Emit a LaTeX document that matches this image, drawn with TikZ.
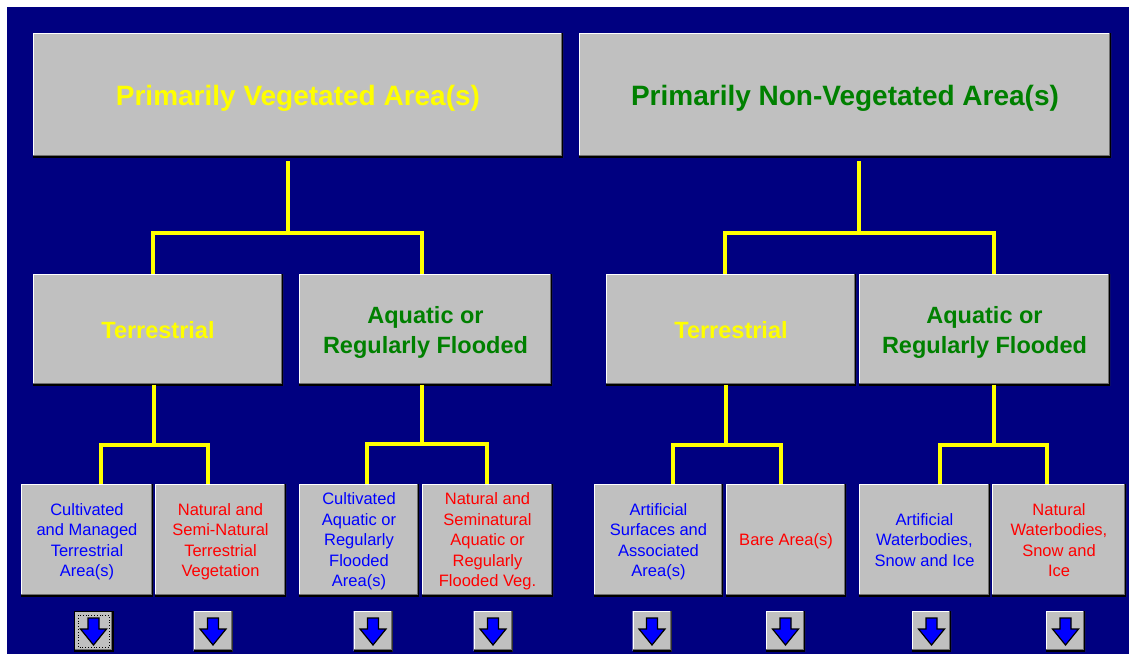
\documentclass[tikz,border=0pt]{standalone}
\usepackage{fontspec}
\setmainfont{Liberation Sans}
\definecolor{navy}{RGB}{0,0,128}
\definecolor{wingray}{RGB}{192,192,192}
\definecolor{windark}{RGB}{110,110,110}
\definecolor{tyellow}{RGB}{255,255,0}
\definecolor{tgreen}{RGB}{0,128,0}
\definecolor{tblue}{RGB}{0,0,255}
\definecolor{tred}{RGB}{255,0,0}
\newcommand\winbevel{%
  \draw[white,line width=2pt] (path picture bounding box.south west) -- (path picture bounding box.north west) -- (path picture bounding box.north east);
  \draw[windark,line width=4pt] (path picture bounding box.south west) -- (path picture bounding box.south east) -- (path picture bounding box.north east);
  \draw[black,line width=2pt] (path picture bounding box.south west) -- (path picture bounding box.south east) -- (path picture bounding box.north east);}
\newcommand\winarrow{%
  \filldraw[fill=tblue,draw=black,line width=1.2pt,line join=miter]
    ([shift={(-5.5,-13)}]path picture bounding box.center) -- ([shift={(5.5,-13)}]path picture bounding box.center)
    -- ([shift={(5.5,-2)}]path picture bounding box.center) -- ([shift={(13,-2)}]path picture bounding box.center)
    -- ([shift={(0,14)}]path picture bounding box.center) -- ([shift={(-13,-2)}]path picture bounding box.center)
    -- ([shift={(-5.5,-2)}]path picture bounding box.center) -- cycle;}
\begin{document}
\begin{tikzpicture}[x=1pt,y=-1pt,
  panel/.style={rectangle,fill=wingray,draw=none,inner sep=0pt,text depth=0pt,path picture={\winbevel}},
  bigbox/.style={panel,minimum height=124pt,font=\bfseries\fontsize{28}{32}\selectfont},
  midbox/.style={panel,minimum height=111pt,align=center,font=\bfseries\fontsize{23.5}{30}\selectfont},
  smallbox/.style={panel,minimum height=112pt,align=center,font=\fontsize{16.5}{20.5}\selectfont},
  btn/.style={rectangle,fill=wingray,inner sep=0pt,minimum width=39pt,minimum height=40pt,path picture={\winbevel\winarrow}},
  focusbtn/.style={btn,draw=black,line width=1pt,path picture={\winbevel\winarrow
     \draw[black,dotted,line width=0.8pt] ([shift={(4,4)}]path picture bounding box.north west) rectangle ([shift={(-4,-4)}]path picture bounding box.south east);}},
  conn/.style={draw=tyellow,line width=4pt,line join=miter}]
\fill[white] (0,0) rectangle (1129,654);
\fill[navy] (7,7) rectangle (1129,654);
\useasboundingbox (0,0) rectangle (1129,654);

% top level
\node[bigbox,minimum width=530pt,text=tyellow] (pv) at (298,95) {Primarily Vegetated Area(s)};
\node[bigbox,minimum width=532pt,text=tgreen] (pn) at (845,95) {Primarily Non-Vegetated Area(s)};

% second level
\node[midbox,minimum width=250pt,text=tyellow] (vt) at (158,329.5) {Terrestrial};
\node[midbox,minimum width=253pt,text=tgreen] (va) at (425.5,329.5) {Aquatic or\\Regularly Flooded};
\node[midbox,minimum width=250pt,text=tyellow] (nt) at (731,329.5) {Terrestrial};
\node[midbox,minimum width=251pt,text=tgreen] (na) at (984.5,329.5) {Aquatic or\\Regularly Flooded};

% third level
\node[smallbox,minimum width=132pt,text=tblue] (b1) at (87,540) {Cultivated\\and Managed\\Terrestrial\\Area(s)};
\node[smallbox,minimum width=131pt,text=tred] (b2) at (220.5,540) {Natural and\\Semi-Natural\\Terrestrial\\Vegetation};
\node[smallbox,minimum width=120pt,text=tblue] (b3) at (359,540) {Cultivated\\Aquatic or\\Regularly\\Flooded\\Area(s)};
\node[smallbox,minimum width=131pt,text=tred] (b4) at (487.5,540) {Natural and\\Seminatural\\Aquatic or\\Regularly\\Flooded Veg.};
\node[smallbox,minimum width=129pt,text=tblue] (b5) at (658.5,540) {Artificial\\Surfaces and\\Associated\\Area(s)};
\node[smallbox,minimum width=120pt,text=tred] (b6) at (786,540) {Bare Area(s)};
\node[smallbox,minimum width=131pt,text=tblue] (b7) at (924.5,540) {Artificial\\Waterbodies,\\Snow and Ice};
\node[smallbox,minimum width=134pt,text=tred] (b8) at (1059,540) {Natural\\Waterbodies,\\Snow and\\Ice};

% buttons
\node[focusbtn] (k1) at (93.5,631) {};
\node[btn] (k2) at (213,631) {};
\node[btn] (k3) at (373,631) {};
\node[btn] (k4) at (493,631) {};
\node[btn] (k5) at (652,631) {};
\node[btn] (k6) at (785.5,631) {};
\node[btn] (k7) at (931.5,631) {};
\node[btn] (k8) at (1065.5,631) {};

% junction coordinates
\coordinate (jA) at (288,233);   \coordinate (jAl) at (153,233);  \coordinate (jAr) at (422,233);
\coordinate (jB) at (859,233);   \coordinate (jBl) at (725,233);  \coordinate (jBr) at (994,233);
\coordinate (jC) at (154,445);   \coordinate (jCl) at (101,445);  \coordinate (jCr) at (208,445);
\coordinate (jD) at (422,444);   \coordinate (jDl) at (367,444);  \coordinate (jDr) at (487,444);
\coordinate (jE) at (726,445);   \coordinate (jEl) at (673,445);  \coordinate (jEr) at (781,445);
\coordinate (jF) at (994,445);   \coordinate (jFl) at (940,445);  \coordinate (jFr) at (1047,445);

% connectors
\draw[conn] ([yshift=-4pt]pv.south -| jA) -- (jA);
\draw[conn] (vt.north -| jAl) -- (jAl) -- (jAr) -- (va.north -| jAr);
\draw[conn] ([yshift=-4pt]pn.south -| jB) -- (jB);
\draw[conn] (nt.north -| jBl) -- (jBl) -- (jBr) -- (na.north -| jBr);

\draw[conn] (vt.south -| jC) -- (jC);
\draw[conn] (b1.north -| jCl) -- (jCl) -- (jCr) -- (b2.north -| jCr);
\draw[conn] (va.south -| jD) -- (jD);
\draw[conn] (b3.north -| jDl) -- (jDl) -- (jDr) -- (b4.north -| jDr);
\draw[conn] (nt.south -| jE) -- (jE);
\draw[conn] (b5.north -| jEl) -- (jEl) -- (jEr) -- (b6.north -| jEr);
\draw[conn] (na.south -| jF) -- (jF);
\draw[conn] (b7.north -| jFl) -- (jFl) -- (jFr) -- (b8.north -| jFr);
\end{tikzpicture}
\end{document}
